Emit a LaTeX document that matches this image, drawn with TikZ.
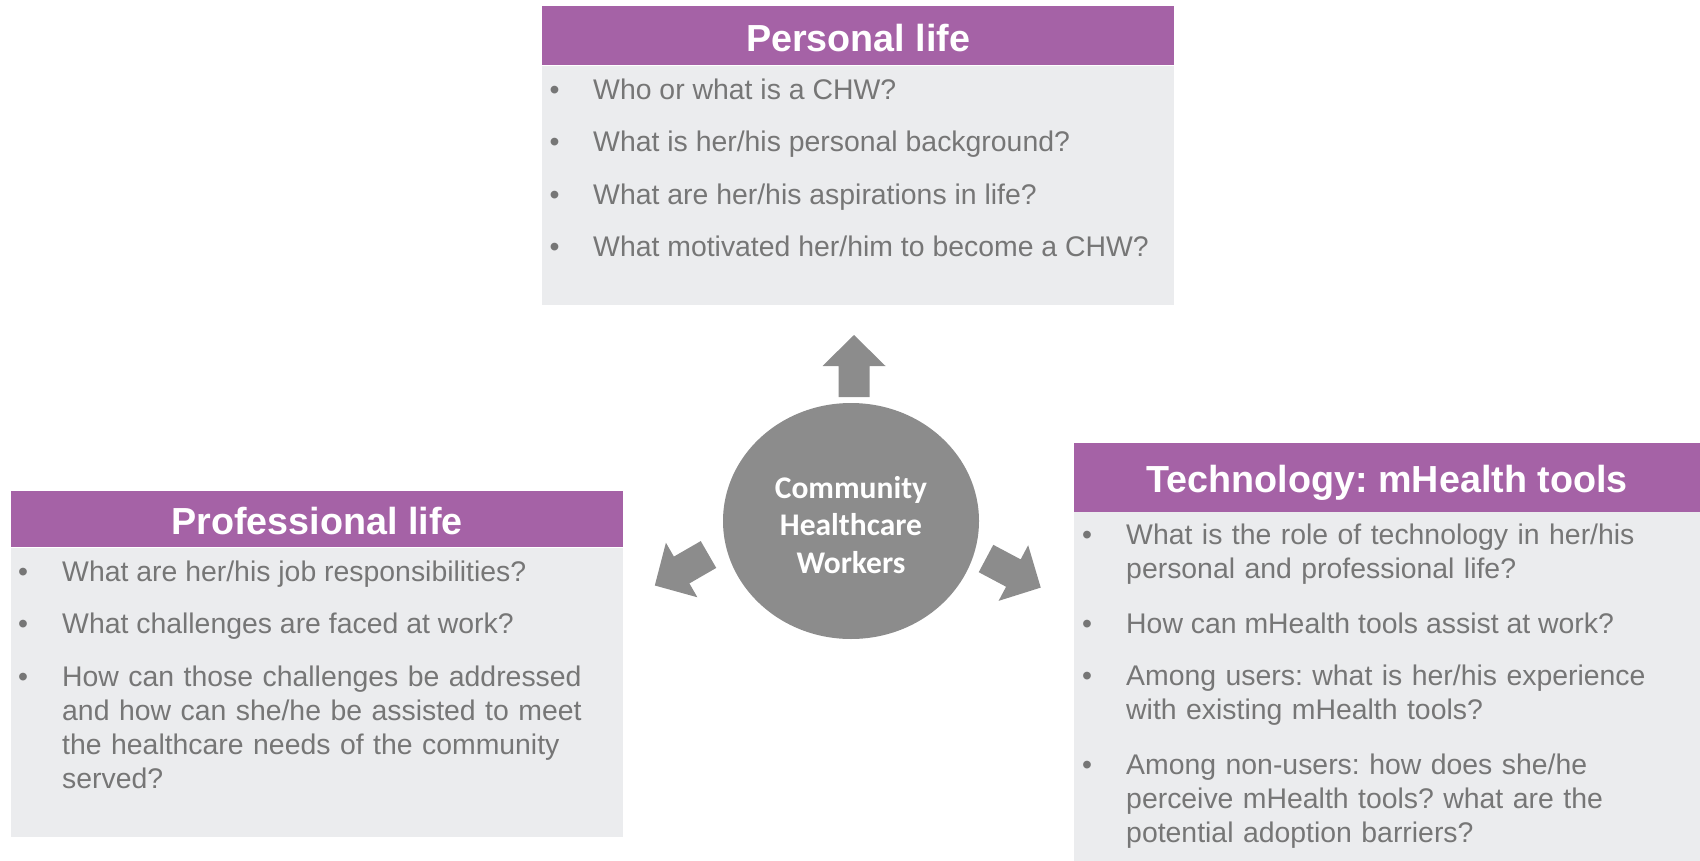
\documentclass[tikz,border=0pt]{standalone}
\usepackage{fontspec}
\setmainfont{Liberation Sans}
\newfontfamily\hubfamily{Carlito}
\usepackage{xcolor}
\usepackage{tikz}
\usetikzlibrary{calc,shapes.geometric}
\definecolor{headpurple}{HTML}{A562A6}
\definecolor{boxgray}{HTML}{EBECEE}
\definecolor{textgray}{HTML}{767676}
\definecolor{hubgray}{HTML}{8C8C8C}
\frenchspacing
\hyphenpenalty=10000
\exhyphenpenalty=10000
\tikzset{
  head/.style={fill=headpurple, text=white, inner sep=0pt, anchor=north west,
    font={\fontsize{37.7}{45}\selectfont\bfseries}, text height=31pt, text depth=0pt},
  body/.style={fill=boxgray, inner sep=0pt, anchor=north west},
  dot/.style={text=textgray, inner sep=0pt, anchor=base, font={\fontsize{28.4}{34}\selectfont}},
  item/.style={text=textgray, inner sep=0pt, anchor=base west, align=left,
    font={\fontsize{28.4}{34}\selectfont}},
  hub/.style={ellipse, fill=hubgray, text=white, inner sep=0pt, align=center,
    minimum width=256pt, minimum height=236pt,
    font={\hubfamily\bfseries\fontsize{31.5}{37.4}\selectfont}},
  blockarrow/.style={fill=hubgray}
}

\begin{document}
\begin{tikzpicture}[x=1pt, y=-1pt]
  \useasboundingbox (0,0) rectangle (1700,861);

  % personal life
  \node[head, minimum width=632pt, minimum height=59pt] (perhead) at (542,6) {Personal life};
  \node[body, minimum width=632pt, minimum height=239pt] (perbody) at (perhead.south west) {};
  \node[dot] (perdot1) at ($(perbody.north west)+(12.5,34)$) {\textbullet};
  \node[item] (peritem1) at ($(perbody.north west)+(51,34)$) {Who or what is a CHW?};
  \node[dot] (perdot2) at ($(perbody.north west)+(12.5,86.5)$) {\textbullet};
  \node[item] (peritem2) at ($(perbody.north west)+(51,86.5)$) {What is her/his personal background?};
  \node[dot] (perdot3) at ($(perbody.north west)+(12.5,139)$) {\textbullet};
  \node[item] (peritem3) at ($(perbody.north west)+(51,139)$) {What are her/his aspirations in life?};
  \node[dot] (perdot4) at ($(perbody.north west)+(12.5,191.5)$) {\textbullet};
  \node[item] (peritem4) at ($(perbody.north west)+(51,191.5)$) {What motivated her/him to become a CHW?};

  % professional life
  \node[head, minimum width=612pt, minimum height=56pt] (prohead) at (11,491) {Professional life};
  \node[body, minimum width=612pt, minimum height=289pt] (probody) at (prohead.south west) {};
  \node[dot] (prodot1) at ($(probody.north west)+(12,34)$) {\textbullet};
  \node[item] (proitem1) at ($(probody.north west)+(51,34)$) {What are her/his job responsibilities?};
  \node[dot] (prodot2) at ($(probody.north west)+(12,86)$) {\textbullet};
  \node[item] (proitem2) at ($(probody.north west)+(51,86)$) {What challenges are faced at work?};
  \node[dot] (prodot3) at ($(probody.north west)+(12,139)$) {\textbullet};
  \node[item, text width=530pt] (proitem3) at ($(probody.north west)+(51,139)$)
    {How can those challenges be addressed and how can she/he be assisted to meet the healthcare needs of the community served?};

  % technology
  \node[head, minimum width=626pt, minimum height=68.5pt] (techhead) at (1074,443) {Technology: mHealth tools};
  \node[body, minimum width=626pt, minimum height=349.5pt] (techbody) at (techhead.south west) {};
  \node[dot] (techdot1) at ($(techbody.north west)+(13,32.5)$) {\textbullet};
  \node[item, text width=535pt] (techitem1) at ($(techbody.north west)+(52,32.5)$)
    {What is the role of technology in her/his personal and professional life?};
  \node[dot] (techdot2) at ($(techbody.north west)+(13,122)$) {\textbullet};
  \node[item] (techitem2) at ($(techbody.north west)+(52,122)$) {How can mHealth tools assist at work?};
  \node[dot] (techdot3) at ($(techbody.north west)+(13,173.5)$) {\textbullet};
  \node[item, text width=535pt] (techitem3) at ($(techbody.north west)+(52,173.5)$)
    {Among users: what is her/his experience with existing mHealth tools?};
  \node[dot] (techdot4) at ($(techbody.north west)+(13,262.5)$) {\textbullet};
  \node[item, text width=535pt] (techitem4) at ($(techbody.north west)+(52,262.5)$)
    {Among non-users: how does she/he perceive mHealth tools? what are the potential adoption barriers?};

  % centre and arrows
  \node[hub] (hub) at (851,521) {\rule{0pt}{30pt}Community\\Healthcare\\Workers};
  \fill[blockarrow, shift={($(hub.center)+(3,-124)$)}, rotate=90]
    (0,-15.5) -- (31,-15.5) -- (31,-31.5) -- (62,0) -- (31,31.5) -- (31,15.5) -- (0,15.5) -- cycle;
  \fill[blockarrow, shift={($(hub.center)+(-142.5,33.5)$)}, rotate=210]
    (0,-15.5) -- (31,-15.5) -- (31,-31.5) -- (62,0) -- (31,31.5) -- (31,15.5) -- (0,15.5) -- cycle;
  \fill[blockarrow, shift={($(hub.center)+(135,37.5)$)}, rotate=-28]
    (0,-15.5) -- (31,-15.5) -- (31,-31.5) -- (62,0) -- (31,31.5) -- (31,15.5) -- (0,15.5) -- cycle;
\end{tikzpicture}
\end{document}
